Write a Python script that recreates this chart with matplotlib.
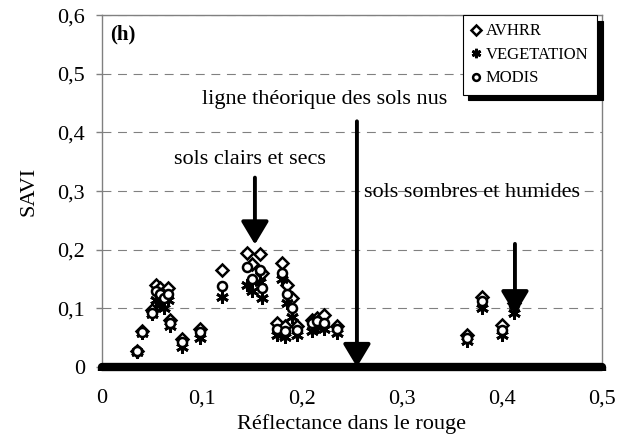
import numpy as np
import matplotlib
matplotlib.use('Agg')
import matplotlib.pyplot as plt

plt.rcParams['font.family'] = ['Liberation Serif', 'DejaVu Serif']

# reflectance in the red / SAVI per sensor
x_avhrr = [0.035, 0.040, 0.050, 0.054, 0.058, 0.062, 0.066, 0.068, 0.080, 0.098,
           0.120, 0.145, 0.150, 0.158, 0.160, 0.175, 0.180, 0.185, 0.183, 0.190,
           0.195, 0.210, 0.215, 0.222, 0.235, 0.365, 0.380, 0.400, 0.412]
y_avhrr = [0.028, 0.062, 0.097, 0.140, 0.135, 0.128, 0.135, 0.080, 0.048, 0.065,
           0.165, 0.195, 0.175, 0.192, 0.160, 0.075, 0.178, 0.140, 0.070, 0.118,
           0.070, 0.080, 0.083, 0.088, 0.070, 0.055, 0.120, 0.072, 0.110]

x_veg = [0.035, 0.040, 0.050, 0.054, 0.058, 0.062, 0.066, 0.068, 0.080, 0.098,
         0.120, 0.145, 0.150, 0.158, 0.160, 0.175, 0.180, 0.185, 0.183, 0.190,
         0.195, 0.210, 0.215, 0.222, 0.235, 0.365, 0.380, 0.400, 0.412]
y_veg = [0.025, 0.058, 0.090, 0.115, 0.105, 0.100, 0.115, 0.070, 0.035, 0.050,
         0.120, 0.140, 0.130, 0.145, 0.118, 0.055, 0.150, 0.110, 0.052, 0.085,
         0.055, 0.062, 0.068, 0.065, 0.058, 0.045, 0.100, 0.055, 0.092]

x_modis = [0.035, 0.040, 0.050, 0.054, 0.058, 0.062, 0.066, 0.068, 0.080, 0.098,
           0.120, 0.145, 0.150, 0.158, 0.160, 0.175, 0.180, 0.185, 0.183, 0.190,
           0.195, 0.210, 0.215, 0.222, 0.235, 0.365, 0.380, 0.400, 0.412]
y_modis = [0.027, 0.060, 0.093, 0.130, 0.125, 0.118, 0.125, 0.075, 0.042, 0.060,
           0.138, 0.170, 0.150, 0.165, 0.135, 0.065, 0.160, 0.125, 0.062, 0.100,
           0.063, 0.075, 0.078, 0.075, 0.065, 0.050, 0.113, 0.063, 0.105]

x_ticks = [0, 0.1, 0.2, 0.3, 0.4, 0.5]
y_ticks = [0, 0.1, 0.2, 0.3, 0.4, 0.5, 0.6]


def comma(v):
    return '0' if v == 0 else ('%.1f' % v).replace('.', ',')


def arrow(ax, x, y0, y1, z=4):
    ax.annotate('', xy=(x, y1), xytext=(x, y0),
                arrowprops=dict(arrowstyle='-|>,head_length=0.7,head_width=0.42',
                                mutation_scale=20, lw=2.8, color='black',
                                shrinkA=0, shrinkB=0), zorder=z)


fig = plt.figure(figsize=(6.29, 4.46), dpi=100)
ax = fig.add_axes([0.162, 0.177, 0.795, 0.789])

ax.plot(x_avhrr, y_avhrr, linestyle='none', marker='D', markersize=6.5,
        markerfacecolor='white', markeredgecolor='black', markeredgewidth=1.8,
        label='AVHRR')
ax.plot(x_veg, y_veg, linestyle='none', marker=(6, 2, 0), markersize=9,
        color='black', markeredgewidth=2, label='VEGETATION')
ax.plot(x_modis, y_modis, linestyle='none', marker='o', markersize=6.5,
        markerfacecolor='white', markeredgecolor='black', markeredgewidth=1.8,
        label='MODIS')

ax.set_xlim(0, 0.5)
ax.set_ylim(0, 0.6)
ax.set_xticks(x_ticks)
ax.set_yticks(y_ticks)
ax.set_xticklabels([comma(v) for v in x_ticks], fontsize=16)
ax.set_yticklabels([comma(v) for v in y_ticks], fontsize=16)

ax.grid(axis='y', color='gray', linestyle=(0, (8, 6)), linewidth=0.8)
ax.set_axisbelow(True)

for side in ['left', 'top', 'right']:
    ax.spines[side].set_color('gray')
    ax.spines[side].set_linewidth(1)
ax.spines['bottom'].set_linewidth(6)
ax.spines['bottom'].set_capstyle('round')
ax.spines['bottom'].set_zorder(5)

ax.tick_params(axis='y', direction='out', length=4, width=1, color='gray', pad=8)
ax.tick_params(axis='x', direction='out', length=3, width=6, color='black', pad=13)

ax.set_xlabel('Réflectance dans le rouge', fontsize=16, labelpad=4)
ax.set_ylabel('SAVI', fontsize=16, labelpad=14)

ax.text(0.008, 0.567, '(h)', fontsize=15, fontweight='bold', va='center')

ax.text(0.223, 0.456, 'ligne théorique des sols nus', fontsize=16,
        ha='center', va='center')
arrow(ax, 0.255, 0.419, 0.0, z=6)

ax.text(0.148, 0.354, 'sols clairs et secs', fontsize=16,
        ha='center', va='center')
arrow(ax, 0.153, 0.323, 0.209)

ax.text(0.37, 0.297, 'sols sombres et humides', fontsize=16,
        ha='center', va='center')
arrow(ax, 0.413, 0.21, 0.09)

leg = ax.legend(loc='upper right', bbox_to_anchor=(0.99, 1.0), borderaxespad=0,
                fontsize=12, frameon=True, fancybox=False, edgecolor='black',
                handlelength=0.6, handletextpad=0.3, borderpad=0.5,
                labelspacing=0.45, markerscale=0.75,
                shadow={'ox': 4, 'oy': -4, 'facecolor': 'black',
                        'edgecolor': 'black', 'alpha': 1})
leg.get_frame().set_linewidth(0.8)

fig.savefig('out.png', dpi=100)
